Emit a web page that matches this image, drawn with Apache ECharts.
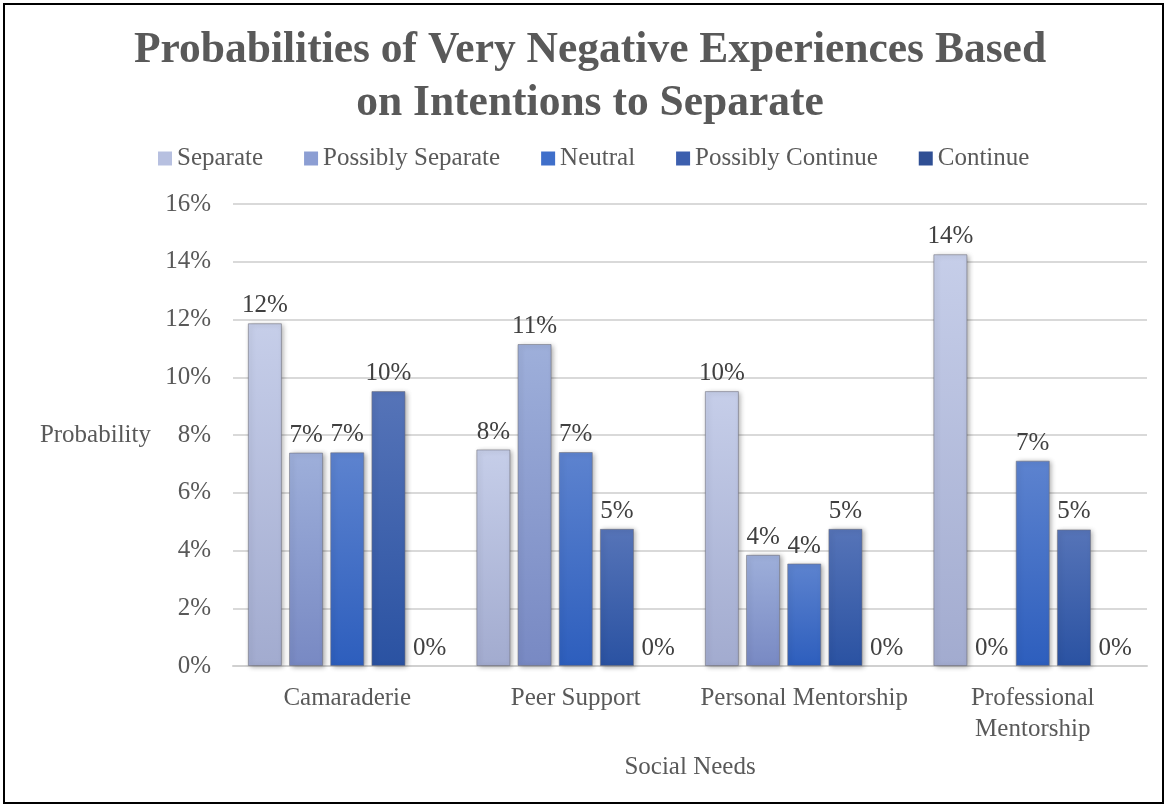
<!DOCTYPE html>
<html>
<head>
<meta charset="utf-8">
<script src="https://cdn.jsdelivr.net/npm/echarts@6/dist/echarts.min.js"></script>
<style>
  html, body { margin: 0; padding: 0; background: #fff; }
  #frame { position: absolute; left: 3px; top: 3px; width: 1157px; height: 797px; border: 2px solid #000; box-sizing: content-box; }
  #chart { position: absolute; left: 0; top: 0; width: 1167px; height: 806px; }
</style>
</head>
<body>
<div id="chart"></div>
<div id="frame"></div>
<script>
// Social needs along the x axis
const categories = ['Camaraderie', 'Peer Support', 'Personal Mentorship', 'Professional Mentorship'];
// Probability (%) of very negative experiences per intention group
const separate         = [11.87, 7.5, 9.52, 14.26];
const possiblySeparate = [7.39, 11.15, 3.85, 0];
const neutral          = [7.4, 7.41, 3.55, 7.11];
const possiblyContinue = [9.52, 4.75, 4.75, 4.73];
const continueGroup    = [0, 0, 0, 0];
const yTicks = [0, 2, 4, 6, 8, 10, 12, 14, 16];

const serif = '"Liberation Serif", "Times New Roman", serif';

function grad(top, bottom) {
  return new echarts.graphic.LinearGradient(0, 0, 0, 1, [
    { offset: 0, color: top },
    { offset: 1, color: bottom }
  ]);
}

const groups = [
  { name: 'Separate',          data: separate,         top: '#c6cee9', bottom: '#a2abcf', legend: '#b7c0e0' },
  { name: 'Possibly Separate', data: possiblySeparate, top: '#9eafda', bottom: '#7889c3', legend: '#8c9ed3' },
  { name: 'Neutral',           data: neutral,          top: '#5d83cf', bottom: '#2d5ebd', legend: '#3f6fca' },
  { name: 'Possibly Continue', data: possiblyContinue, top: '#5674b8', bottom: '#2a52a2', legend: '#3c5fae' },
  { name: 'Continue',          data: continueGroup,    top: '#3d5da4', bottom: '#264990', legend: '#2f4f94' }
];

// zero-height bars get no outline or shadow, only their value label
function barData(values) {
  return values.map(v => v === 0
    ? { value: v, itemStyle: { borderWidth: 0, shadowBlur: 0, shadowOffsetX: 0, shadowOffsetY: 0 } }
    : v);
}

const chart = echarts.init(document.getElementById('chart'), null, { renderer: 'canvas' });

chart.setOption({
  animation: false,
  backgroundColor: '#fff',
  textStyle: { fontFamily: serif },
  title: {
    text: 'Probabilities of Very Negative Experiences Based\non Intentions to Separate',
    left: 585,
    top: 19,
    textAlign: 'center',
    textStyle: { fontFamily: serif, fontSize: 43.5, fontWeight: 'bold', color: '#595959', lineHeight: 53 }
  },
  legend: {
    top: 141,
    left: 153,
    itemWidth: 14,
    itemHeight: 14,
    itemGap: 41,
    icon: 'rect',
    textStyle: { fontFamily: serif, fontSize: 25, color: '#595959' },
    data: groups.map(g => ({ name: g.name, itemStyle: { color: g.legend, borderWidth: 0, shadowBlur: 0 } }))
  },
  grid: { left: 233, right: 20, top: 204, bottom: 140 },
  xAxis: {
    type: 'category',
    data: categories,
    name: 'Social Needs',
    nameLocation: 'middle',
    nameGap: 89,
    nameTextStyle: { fontFamily: serif, fontSize: 25, color: '#595959' },
    axisLine: { lineStyle: { color: '#d0d0d0', width: 2 } },
    axisTick: { show: false },
    axisLabel: {
      interval: 0,
      fontFamily: serif, fontSize: 25, color: '#595959', margin: 17, lineHeight: 31,
      formatter: v => v.length > 20 ? v.replace(' ', '\n') : v
    }
  },
  yAxis: {
    type: 'value',
    min: 0,
    max: 16,
    interval: 2,
    name: 'Probability',
    nameLocation: 'middle',
    nameRotate: 0,
    nameGap: 82,
    nameTextStyle: { fontFamily: serif, fontSize: 25, color: '#595959', align: 'right' },
    axisLine: { show: false },
    axisTick: { show: false },
    splitLine: { lineStyle: { color: '#d9d9d9', width: 2 } },
    axisLabel: {
      fontFamily: serif, fontSize: 25, color: '#595959', margin: 22,
      formatter: v => yTicks.includes(v) ? v + '%' : ''
    }
  },
  series: groups.map(g => ({
    name: g.name,
    type: 'bar',
    data: barData(g.data),
    barGap: '21%',
    barCategoryGap: '13%',
    itemStyle: {
      color: grad(g.top, g.bottom),
      borderColor: 'rgba(110,110,120,0.55)',
      borderWidth: 1,
      shadowColor: 'rgba(0,0,0,0.35)',
      shadowBlur: 5,
      shadowOffsetX: 2,
      shadowOffsetY: 1
    },
    label: {
      show: true,
      position: 'top',
      distance: 5,
      fontFamily: serif,
      fontSize: 25,
      color: '#404040',
      formatter: p => Math.round(p.value) + '%'
    }
  }))
});
</script>
</body>
</html>
